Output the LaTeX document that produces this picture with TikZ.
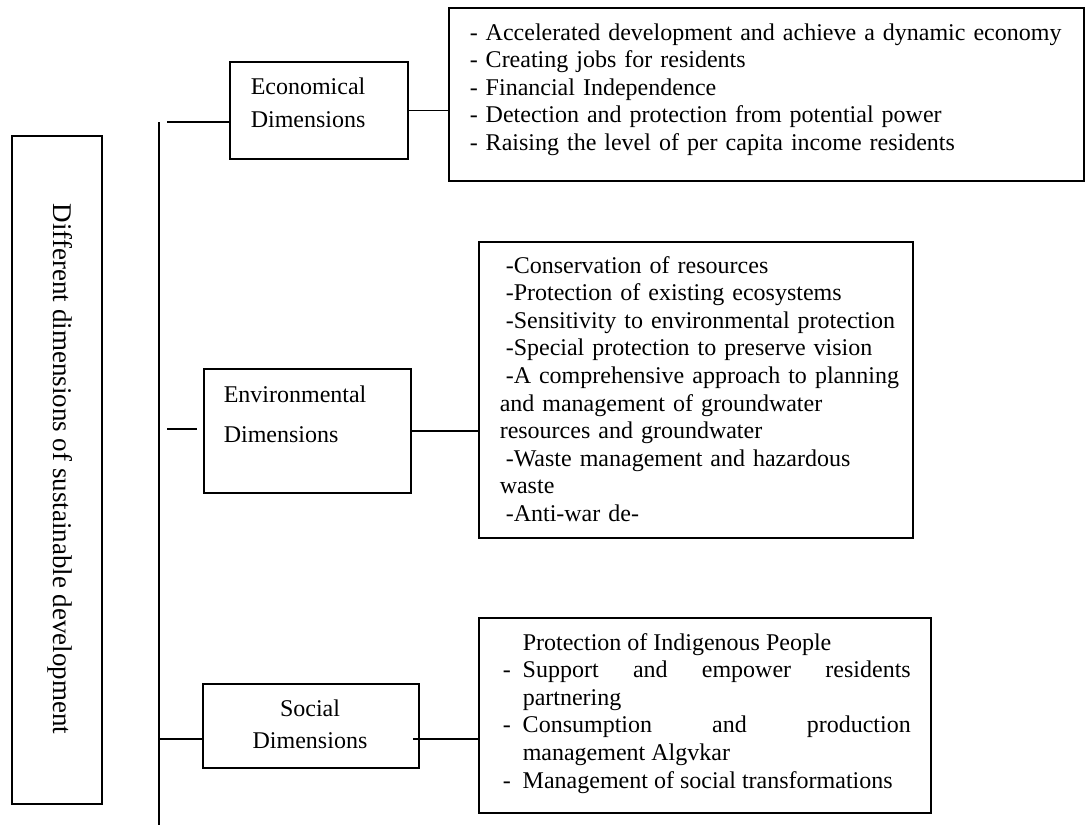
\documentclass[tikz,border=0pt]{standalone}
\usepackage{fontspec}
\setmainfont{Liberation Serif}
\usetikzlibrary{positioning}

\begin{document}
\begin{tikzpicture}[x=0.5pt,y=-0.5pt,line width=0.75pt,
  dimbox/.style={draw,anchor=north west,inner sep=0pt},
  txt/.style={inner sep=0pt,font=\fontsize{12pt}{13.8pt}\selectfont}]
  \useasboundingbox (0,0) rectangle (1086,825);
  \node[dimbox,minimum width=45pt,minimum height=334pt]	(L)	at (11,135)	{};
  \node[dimbox,minimum width=89pt,minimum height=48.5pt]	(E)	at (229,61)	{};
  \node[dimbox,minimum width=317.5pt,minimum height=86.5pt]	(R1)	at (448,7)	{};
  \node[dimbox,minimum width=103.5pt,minimum height=62pt]	(V)	at (203,368)	{};
  \node[dimbox,minimum width=217pt,minimum height=148pt]	(R2)	at (478,241)	{};
  \node[dimbox,minimum width=108pt,minimum height=42pt]	(S)	at (202,683)	{};
  \node[dimbox,minimum width=226pt,minimum height=97.5pt]	(R3)	at (478,617)	{};
  \node[txt,rotate=-90,font=\fontsize{13.5pt}{16pt}\selectfont]	(Lt)	at (60,469)	{Different dimensions of sustainable development};
  \node[txt,anchor=base west,text width=80pt,align=left,font=\fontsize{12pt}{16.5pt}\selectfont]	(Et)	at (250,94)	{Economical\\Dimensions};
  \node[txt,anchor=base west,text width=90pt,align=left,font=\fontsize{12pt}{20pt}\selectfont]	(Vt)	at (223,402)	{Environmental\\Dimensions};
  \node[txt,anchor=base,text width=100pt,align=center,font=\fontsize{12pt}{16pt}\selectfont]	(St)	at (310,716)	{Social\\Dimensions};
  \node[txt,anchor=base west,text width=300pt,align=left]	(R1t)	at (469,40)
    {- Accelerated development and achieve a dynamic economy\\- Creating jobs for residents\\- Financial Independence\\- Detection and protection from potential power\\- Raising the level of per capita income residents};
  \node[txt,anchor=base west,text width=205pt,align=left]	(R2t)	at (499,273)
    {\hspace*{3pt}-Conservation of resources\\\hspace*{3pt}-Protection of existing ecosystems\\\hspace*{3pt}-Sensitivity to environmental protection\\\hspace*{3pt}-Special protection to preserve vision\\\hspace*{3pt}-A comprehensive approach to planning\\and management of groundwater\\resources and groundwater\\\hspace*{3pt}-Waste management and hazardous\\waste\\\hspace*{3pt}-Anti-war de-};
  \node[txt,anchor=base west,text width=204pt,align=justify]	(R3t)	at (502,650)
    {\tolerance=10000\hyphenpenalty=10000
    \hspace*{10pt}Protection of Indigenous People\par
    \hangindent=10pt\makebox[10pt][l]{-}Support and empower residents partnering\par
    \hangindent=10pt\makebox[10pt][l]{-}Consumption and production management Algvkar\par
    \hangindent=10pt\makebox[10pt][l]{-}Management of social transformations};
  \coordinate	(top)	at (159,122);
  \coordinate	(bot)	at (159,825);
  \coordinate	(e)	at (167,122);
  \coordinate	(v1)	at (167,429);
  \coordinate	(v2)	at (197,429);
  \coordinate	(s1)	at (159,739);
  \coordinate	(s2)	at (413,739);
  \draw[line width=1pt]	(top)	--	(bot);
  \draw	(e)	--	(e -| E.west);
  \draw	(E.east)	--	(E.east -| R1.west);
  \draw	(v1)	--	(v2);
  \draw	(V.east)	--	(V.east -| R2.west);
  \draw	(s1)	--	(s1 -| S.west);
  \draw	(s2)	--	(s2 -| R3.west);
\end{tikzpicture}
\end{document}
